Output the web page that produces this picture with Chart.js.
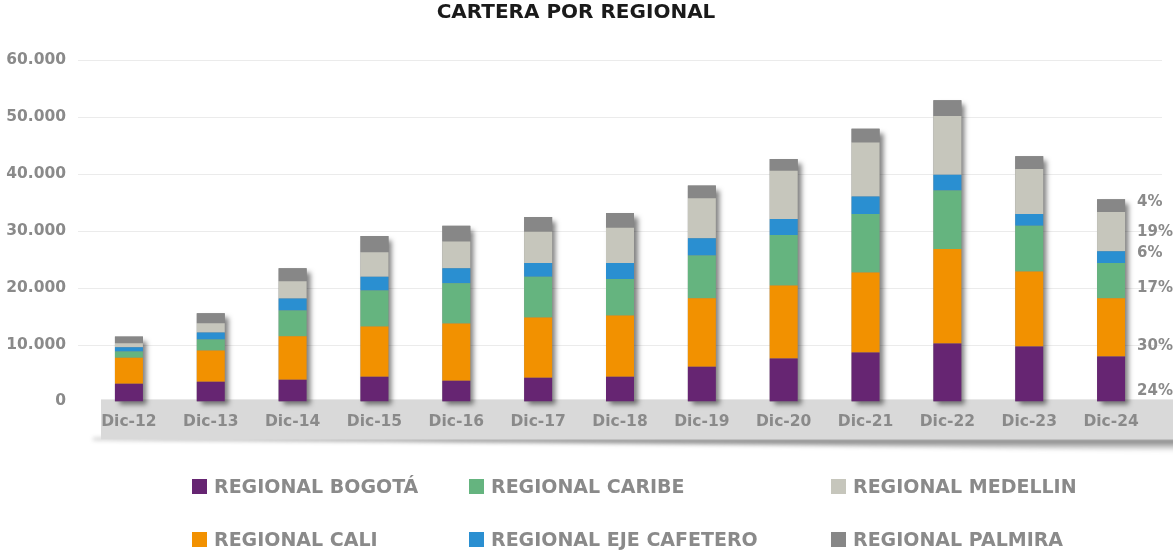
<!DOCTYPE html>
<html>
<head>
<meta charset="utf-8">
<script src="https://cdn.jsdelivr.net/npm/chart.js@4.4.1/dist/chart.umd.min.js"></script>
<style>
    html, body { margin: 0; padding: 0; background: #fff; }
    #wrap { position: relative; width: 1173px; height: 551px; }
    #chart { position: absolute; left: 0; top: 0; }
    #legend {
        position: absolute; left: 192px; top: 476px;
        display: grid;
        grid-template-columns: 277px 362px auto;
        grid-template-rows: 20px 20px;
        row-gap: 33px;
        grid-auto-flow: column;
        font-family: "DejaVu Sans", sans-serif;
        font-weight: bold; font-size: 19px; color: #8a8a8a;
    }
    .item { display: flex; align-items: center; white-space: nowrap; line-height: 19px; }
    .box { width: 15px; height: 15px; margin-right: 7px; flex: none; }
</style>
</head>
<body>
<div id="wrap">
    <canvas id="chart" width="1173" height="551"></canvas>
    <div id="legend"></div>
</div>
<script>
const categories = ['Dic-12', 'Dic-13', 'Dic-14', 'Dic-15', 'Dic-16', 'Dic-17', 'Dic-18',
    'Dic-19', 'Dic-20', 'Dic-21', 'Dic-22', 'Dic-23', 'Dic-24'];

const bogota   = [3100, 3450, 3800, 4340, 3630, 4160, 4340, 6110, 7520, 8580, 10180, 9650, 7880];
const cali     = [4550, 5490, 7670, 8820, 10050, 10580, 10750, 12010, 12860, 14060, 16610, 13180, 10230];
const caribe   = [1100, 1940, 4490, 6310, 7070, 7150, 6420, 7540, 8870, 10290, 10280, 8030, 6230];
const eje      = [760, 1240, 2110, 2420, 2650, 2450, 2830, 3020, 2820, 3100, 2760, 2070, 2070];
const medellin = [710, 1600, 3060, 4340, 4710, 5470, 6180, 7010, 8450, 9490, 10340, 7930, 6870];
const palmira  = [1170, 1770, 2270, 2830, 2750, 2600, 2580, 2240, 2070, 2410, 2760, 2240, 2240];

// participacion Dic-24, en el orden de las series
const lastShare = ['24%', '30%', '17%', '6%', '19%', '4%'];

const yTicks = [0, 10000, 20000, 30000, 40000, 50000, 60000];

const GRAY_TEXT = '#8a8a8a';
const FONT = '"DejaVu Sans", sans-serif';

const formatMiles = v => String(v).replace(/\B(?=(\d{3})+(?!\d))/g, '.');

// banda gris del eje X, lineas de guia y sombras
const decorPlugin = {
    id: 'decor',
    beforeDraw(chart) {
        const { ctx, chartArea, scales } = chart;
        const y = scales.y;
        ctx.save();
        ctx.strokeStyle = '#ebebeb';
        ctx.lineWidth = 1.2;
        for (const t of yTicks) {
            if (t === 0) continue;
            const py = Math.round(y.getPixelForValue(t)) + 0.5;
            ctx.beginPath();
            ctx.moveTo(chartArea.left - 10, py);
            ctx.lineTo(chartArea.right + 10, py);
            ctx.stroke();
        }

        const bandLeft = chartArea.left + 13;
        const bandTop = y.getPixelForValue(0) - 2;
        const bandBottom = bandTop + 40;

        // sombra curva bajo la banda
        ctx.filter = 'blur(2px)';
        const g = ctx.createLinearGradient(0, bandBottom, 0, bandBottom + 12);
        g.addColorStop(0, 'rgba(60,60,60,0.7)');
        g.addColorStop(1, 'rgba(60,60,60,0)');
        ctx.fillStyle = g;
        ctx.beginPath();
        ctx.moveTo(bandLeft - 8, bandBottom - 1);
        ctx.lineTo(chart.width + 10, bandBottom - 1);
        ctx.lineTo(chart.width + 10, bandBottom + 12);
        ctx.quadraticCurveTo(chart.width * 0.6, bandBottom + 3, bandLeft - 8, bandBottom);
        ctx.closePath();
        ctx.fill();
        ctx.filter = 'none';

        ctx.fillStyle = '#d9d9d9';
        ctx.fillRect(bandLeft, bandTop, chart.width - bandLeft, bandBottom - bandTop);
        ctx.restore();
    },
    beforeDatasetsDraw(chart) {
        const { ctx } = chart;
        const first = chart.getDatasetMeta(0).data;
        const last = chart.getDatasetMeta(chart.data.datasets.length - 1).data;
        ctx.save();
        ctx.shadowColor = 'rgba(0,0,0,0.5)';
        ctx.shadowBlur = 5;
        ctx.shadowOffsetX = 4;
        ctx.shadowOffsetY = 4;
        ctx.fillStyle = '#888';
        last.forEach((bar, i) => {
            const top = bar.y;
            const bottom = first[i].base;
            ctx.fillRect(bar.x - bar.width / 2, top, bar.width, bottom - top);
        });
        ctx.restore();
    },
    afterDatasetsDraw(chart) {
        const { ctx } = chart;
        const n = chart.data.labels.length - 1;
        const metas = chart.data.datasets.map((d, i) => chart.getDatasetMeta(i).data[n]);
        ctx.save();
        ctx.font = 'bold 15px ' + FONT;
        ctx.fillStyle = GRAY_TEXT;
        ctx.textAlign = 'left';
        ctx.textBaseline = 'middle';
        let prev = Infinity;
        metas.forEach((bar, i) => {
            let py = bar.base - 10;
            if (py > prev - 21) py = prev - 21;
            prev = py;
            ctx.fillText(lastShare[i], bar.x + bar.width / 2 + 12, py);
        });
        ctx.restore();
    }
};

const series = [
    { label: 'REGIONAL BOGOTÁ', data: bogota, color: '#662572' },
    { label: 'REGIONAL CALI', data: cali, color: '#F29100' },
    { label: 'REGIONAL CARIBE', data: caribe, color: '#65B47F' },
    { label: 'REGIONAL EJE CAFETERO', data: eje, color: '#2A8FD1' },
    { label: 'REGIONAL MEDELLIN', data: medellin, color: '#C6C6BC' },
    { label: 'REGIONAL PALMIRA', data: palmira, color: '#878787' }
];

const chart = new Chart(document.getElementById('chart'), {
    type: 'bar',
    data: {
        labels: categories,
        datasets: series.map(s => ({
            label: s.label,
            data: s.data,
            backgroundColor: s.color,
            borderWidth: 0,
            barPercentage: 0.342,
            categoryPercentage: 1
        }))
    },
    options: {
        responsive: false,
        animation: false,
        layout: { padding: { left: 0, right: 21, top: 0, bottom: 109 } },
        plugins: {
            legend: { display: false },
            tooltip: { enabled: false },
            title: {
                display: true,
                text: 'CARTERA POR REGIONAL',
                color: '#1a1a1a',
                font: { family: FONT, size: 20, weight: 'bold' },
                padding: { top: 1, bottom: 35 }
            }
        },
        scales: {
            x: {
                stacked: true,
                grid: { display: false, drawTicks: false },
                border: { display: false },
                ticks: {
                    color: GRAY_TEXT,
                    padding: 11,
                    font: { family: FONT, size: 15.5, weight: 'bold' }
                }
            },
            y: {
                stacked: true,
                min: 0,
                max: 60000,
                afterBuildTicks: scale => {
                    scale.ticks = yTicks.map(v => ({ value: v }));
                },
                afterFit: scale => { scale.width = 88; },
                grid: { display: false, drawTicks: false },
                border: { display: false },
                ticks: {
                    color: GRAY_TEXT,
                    padding: 22,
                    font: { family: FONT, size: 15.5, weight: 'bold' },
                    callback: v => formatMiles(v)
                }
            }
        }
    },
    plugins: [decorPlugin]
});

const legendEl = document.getElementById('legend');
series.forEach(s => {
    const item = document.createElement('div');
    item.className = 'item';
    const box = document.createElement('span');
    box.className = 'box';
    box.style.background = s.color;
    const txt = document.createElement('span');
    txt.textContent = s.label;
    item.appendChild(box);
    item.appendChild(txt);
    legendEl.appendChild(item);
});
</script>
</body>
</html>
